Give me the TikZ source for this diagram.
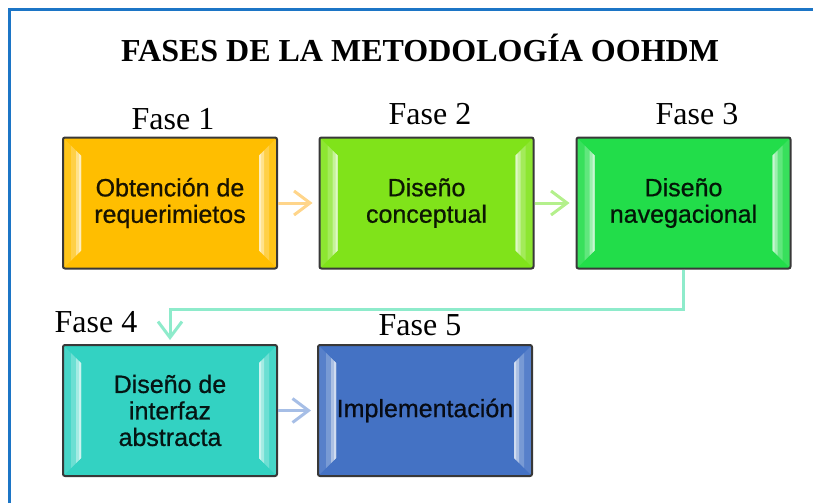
\documentclass[tikz,border=0pt]{standalone}
\usepackage{fontspec}
\setmainfont{Liberation Serif}
\newfontfamily\boxfont[FakeBold=0.7]{Liberation Sans}
\usetikzlibrary{arrows.meta}
\definecolor{frameblue}{HTML}{1C75C6}
\definecolor{c1}{HTML}{FFBE00}
\definecolor{c2}{HTML}{80E31A}
\definecolor{c3}{HTML}{22DD4A}
\definecolor{c4}{HTML}{33D2C2}
\definecolor{c5}{HTML}{4472C4}
\definecolor{a1}{HTML}{FFD58A}
\definecolor{a2}{HTML}{B4F08C}
\definecolor{a3}{HTML}{8EEBCB}
\definecolor{a4}{HTML}{A6BEE6}
\newcommand\bevstrip[3]{%
  \fill[sharp corners, #1]
    ([shift={(#2pt,-#2pt)}]path picture bounding box.north west)
    -- ([shift={(#3pt,-#3pt)}]path picture bounding box.north west)
    -- ([shift={(#3pt,#3pt)}]path picture bounding box.south west)
    -- ([shift={(#2pt,#2pt)}]path picture bounding box.south west) -- cycle;
  \fill[sharp corners, #1]
    ([shift={(-#2pt,-#2pt)}]path picture bounding box.north east)
    -- ([shift={(-#3pt,-#3pt)}]path picture bounding box.north east)
    -- ([shift={(-#3pt,#3pt)}]path picture bounding box.south east)
    -- ([shift={(-#2pt,#2pt)}]path picture bounding box.south east) -- cycle;}
\begin{document}
\begin{tikzpicture}[x=1pt,y=-1pt,
  phase/.style={font=\fontsize{32}{32}\selectfont, anchor=base, inner sep=0pt},
  titletext/.style={font=\bfseries\fontsize{32}{32}\selectfont, anchor=base, inner sep=0pt},
  bbox/.style={draw=black!78, line width=2pt, rounded corners=2pt, fill=#1, text=#1!10!black,
     minimum width=214pt, minimum height=131pt, inner sep=0pt, align=center,
     font=\boxfont\fontsize{25}{26.5}\selectfont,
     path picture={\bevstrip{#1!90!white}{0}{18}\bevstrip{#1!72!white}{8}{18}%
       \bevstrip{#1!45!white}{13}{18}\bevstrip{#1!25!white}{16}{18}}},
  conn/.style={line width=3pt, -{Straight Barb[length=16pt,width=24pt]}, shorten >=6pt}
]
\useasboundingbox (0,0) rectangle (813,503);
\draw[frameblue, line width=3pt] (9.5,503) -- (9.5,9.5) -- (813,9.5);

\node[titletext] (title) at (420,62) {FASES DE LA METODOLOGÍA OOHDM};

\node[phase] (f1) at (173,129) {Fase 1};
\node[phase] (f2) at (430,124) {Fase 2};
\node[phase] (f3) at (697,124) {Fase 3};
\node[phase] (f4) at (96,332) {Fase 4};
\node[phase] (f5) at (420,335) {Fase 5};

\node[bbox=c1] (b1) at (170,203) {Obtención de\\requerimietos};
\node[bbox=c2] (b2) at (426.5,203) {Diseño\\conceptual};
\node[bbox=c3] (b3) at (683.5,203) {Diseño\\navegacional};
\node[bbox=c4] (b4) at (170,410.5) {Diseño de\\interfaz\\abstracta};
\node[bbox=c5] (b5) at (425,410.5) {Implementación};

\draw[conn, a1] (b1) -- (b2);
\draw[conn, a2] (b2) -- (b3);
\draw[conn, a3, shorten >=4pt] (b3.south) -- ++(0,40) -| (b4.north);
\draw[conn, a4] (b4) -- (b5);
\end{tikzpicture}
\end{document}
